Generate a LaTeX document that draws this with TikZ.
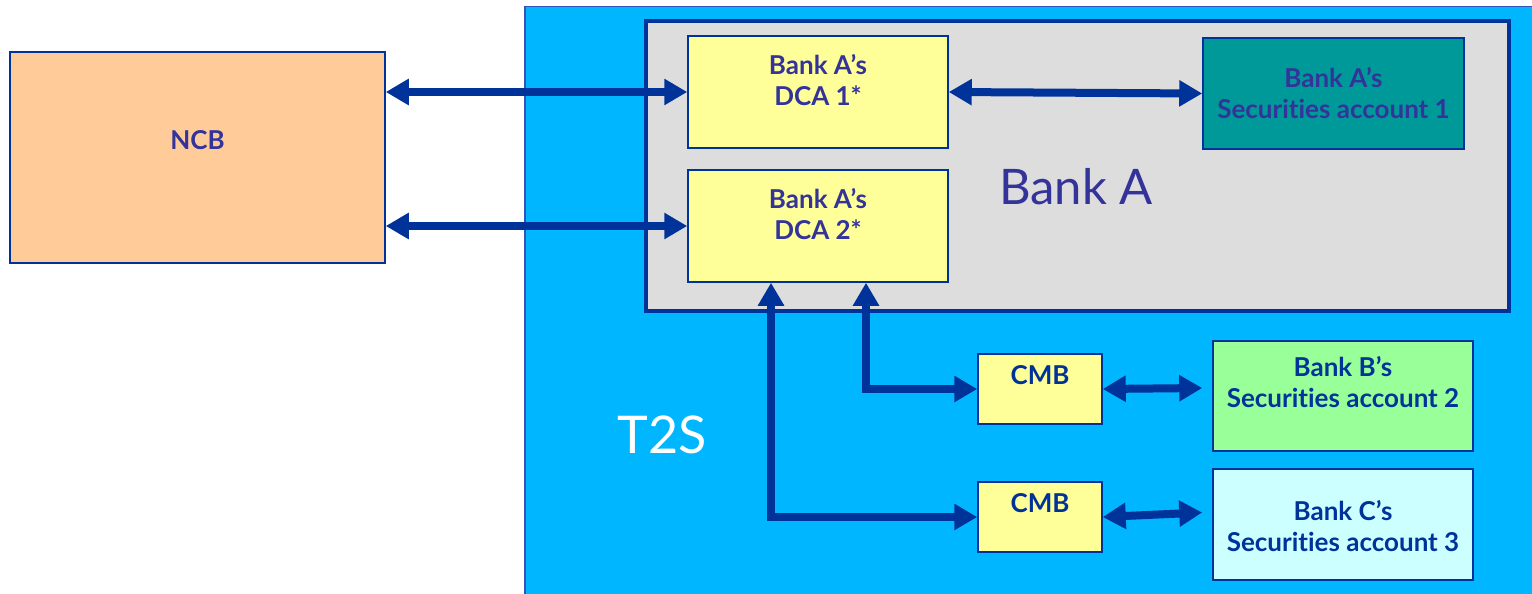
\documentclass[tikz,border=0pt]{standalone}
\usepackage{fontspec}
\setmainfont{Lato}[Ligatures=NoCommon]
\usetikzlibrary{positioning,arrows.meta}
\definecolor{linkblue}{HTML}{003399}
\definecolor{inkblue}{HTML}{333399}
\definecolor{t2sblue}{HTML}{00B6FF}
\definecolor{t2sedge}{HTML}{3355BB}
\definecolor{bankgrey}{HTML}{DDDDDD}
\definecolor{dcayellow}{HTML}{FFFF99}
\definecolor{secteal}{HTML}{009999}
\definecolor{ncbpeach}{HTML}{FFCC99}
\definecolor{secgreen}{HTML}{99FF99}
\definecolor{seccyan}{HTML}{CCFFFF}

\begin{document}
\begin{tikzpicture}[
      x=1pt,y=-1pt,
      every node/.style={font=\fontsize{26}{31}\selectfont\bfseries},
      box/.style={draw=linkblue,line width=1.5pt,inner sep=0pt},
      lbl/.style={text=inkblue,align=center},
      lbl2/.style={text=linkblue,align=center},
      big/.style={font=\fontsize{49}{52}\selectfont},
      link/.style={draw=linkblue,line width=8pt,
        {Triangle[length=23pt,width=25pt]}-{Triangle[length=23pt,width=25pt]}}
    ]
    \useasboundingbox (0,0) rectangle (1532,594);
    % T2S area
    \node[box,draw=t2sedge,fill=t2sblue,minimum width=1040,minimum height=620,anchor=north west] (t2s) at (524,6) {};
    \node[big,text=white,font=\fontsize{52}{54}\selectfont] (t2stxt) at (662,435) {T2S};
    % Bank A
    \node[box,line width=3.5pt,fill=bankgrey,minimum width=863,minimum height=290] (banka) at (1077.5,166) {};
    \node[big,text=inkblue] (bankatxt) at (1076,187) {Bank A};
    % NCB
    \node[box,fill=ncbpeach,minimum width=375,minimum height=211,
      label={[lbl,yshift=17pt]center:NCB}] (ncb) at (197.5,157.5) {};
    % cash accounts
    \node[box,fill=dcayellow,minimum width=260,minimum height=112,
      label={[lbl,yshift=12pt]center:{Bank A’s\\DCA 1*}}] (dca1) at (818,92) {};
    \node[box,fill=dcayellow,minimum width=260,minimum height=112,
      label={[lbl,yshift=12pt]center:{Bank A’s\\DCA 2*}}] (dca2) at (818,226) {};
    % securities accounts
    \node[box,fill=secteal,minimum width=261,minimum height=111,
      label={[lbl]center:{Bank A’s\\Securities account 1}}] (sec1) at (1333.5,93.5) {};
    \node[box,fill=secgreen,minimum width=260,minimum height=110,
      label={[lbl2,yshift=14pt]center:{Bank B’s\\Securities account 2}}] (sec2) at (1343,396) {};
    \node[box,fill=seccyan,minimum width=260,minimum height=111,
      label={[lbl2,yshift=-2pt]center:{Bank C’s\\Securities account 3}}] (sec3) at (1343,524.5) {};
    % CMBs
    \node[box,fill=dcayellow,minimum width=124,minimum height=70,
      label={[lbl2,yshift=14pt]center:CMB}] (cmb1) at (1040,389) {};
    \node[box,fill=dcayellow,minimum width=124,minimum height=70,
      label={[lbl2,yshift=14pt]center:CMB}] (cmb2) at (1040,517) {};
    % links
    \draw[link] (ncb.east |- dca1.west) -- (dca1.west);
    \draw[link] (ncb.east |- dca2.west) -- (dca2.west);
    \draw[link] (dca1.east) -- (sec1.west);
    \draw[link] ([xshift=48pt]dca2.south) |- (cmb1.west);
    \draw[link] ([xshift=-47pt]dca2.south) |- (cmb2.west);
    \draw[link] (cmb1.east) -- ([xshift=-10pt,yshift=8pt]sec2.west);
    \draw[link] (cmb2.east) -- ([xshift=-10pt,yshift=12pt]sec3.west);
  \end{tikzpicture}
\end{document}
